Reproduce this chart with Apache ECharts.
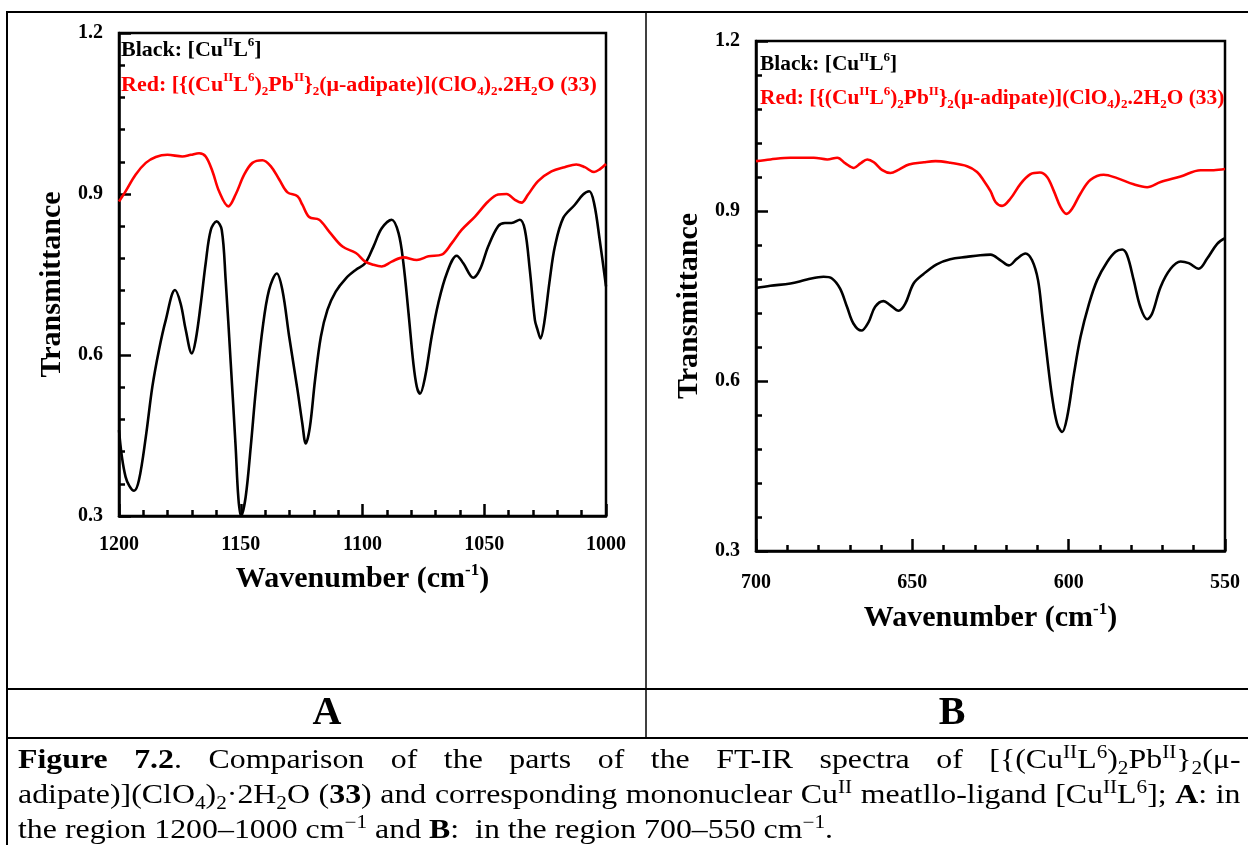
<!DOCTYPE html>
<html>
<head>
<meta charset="utf-8">
<script src="https://cdn.jsdelivr.net/npm/echarts@6/dist/echarts.min.js"></script>
<style>
html, body { margin: 0; padding: 0; background: #fff; }
#wrap { position: relative; width: 1248px; height: 845px; overflow: hidden; }
#chart { position: absolute; left: 0; top: 0; width: 1248px; height: 845px; }
#caption { position: absolute; left: 18px; top: 742px; width: 1036px;
  transform: scaleX(1.18); transform-origin: 0 0;
  font-family: "Liberation Serif", "Times New Roman", serif; font-size: 27px; line-height: 35px; color: #000; }
#caption .row { height: 35px; white-space: nowrap; }
#caption .just { display: inline-block; white-space: nowrap; }
#caption sup, #caption sub { font-size: 18px; line-height: 0; }
</style>
</head>
<body>
<div id="wrap">
  <div id="chart"></div>
  <div id="caption">
    <div class="row"><span class="just"><b>Figure 7.2</b>. Comparison of the parts of the FT-IR spectra of [{(Cu<sup>II</sup>L<sup>6</sup>)<sub>2</sub>Pb<sup>II</sup>}<sub>2</sub>(μ-</span></div>
    <div class="row"><span class="just">adipate)](ClO<sub>4</sub>)<sub>2</sub>·2H<sub>2</sub>O (<b>33</b>) and corresponding mononuclear Cu<sup>II</sup> meatllo-ligand [Cu<sup>II</sup>L<sup>6</sup>]; <b>A</b>: in</span></div>
    <div class="row"><span>the region 1200–1000 cm<sup>−1</sup> and <b>B</b>:&nbsp; in the region 700–550 cm<sup>−1</sup>.</span></div>
  </div>
</div>
<script>
// panel A: 1200-1000 cm-1
var aBlackWn = [1200, 1197.3, 1193.8, 1191.8, 1189, 1186.3, 1183.6, 1180.8, 1177, 1174.7, 1172.6, 1170.1, 1168.5, 1166.4, 1164.4, 1162.3, 1159.9, 1157.8, 1156.2, 1154.1, 1152.1, 1151, 1149.9, 1148, 1145.9, 1143.8, 1141.1, 1138.4, 1135.2, 1132.9, 1130.1, 1126.7, 1124.7, 1123.3, 1121.6, 1119.5, 1117.1, 1114.4, 1111, 1106.8, 1102.7, 1098.9, 1095.5, 1092.1, 1088, 1085.2, 1083.2, 1081.1, 1079.1, 1077.7, 1076.4, 1074.3, 1071.6, 1068.9, 1065.4, 1061.3, 1058.6, 1054.5, 1051.8, 1048.4, 1044.3, 1041.5, 1038.8, 1035.4, 1033.3, 1031.3, 1029.2, 1028.1, 1026.9, 1025.4, 1023.1, 1021, 1017.6, 1012.8, 1009.4, 1006.9, 1004.9, 1002.6, 1000];
var aBlackT = [0.46, 0.373, 0.347, 0.367, 0.447, 0.541, 0.609, 0.665, 0.721, 0.696, 0.647, 0.603, 0.628, 0.696, 0.771, 0.833, 0.849, 0.833, 0.74, 0.584, 0.429, 0.335, 0.3, 0.335, 0.429, 0.535, 0.647, 0.721, 0.752, 0.721, 0.634, 0.535, 0.472, 0.435, 0.466, 0.553, 0.634, 0.684, 0.718, 0.743, 0.759, 0.771, 0.802, 0.836, 0.852, 0.827, 0.771, 0.678, 0.584, 0.541, 0.528, 0.559, 0.634, 0.696, 0.752, 0.785, 0.771, 0.744, 0.759, 0.802, 0.84, 0.846, 0.846, 0.852, 0.833, 0.759, 0.665, 0.647, 0.631, 0.659, 0.74, 0.802, 0.855, 0.88, 0.899, 0.905, 0.883, 0.815, 0.728];
var aRedWn = [1200, 1197.3, 1193.2, 1189, 1184.9, 1180.1, 1174, 1170.5, 1167.1, 1164.4, 1161.6, 1158.9, 1155.1, 1152.1, 1148.6, 1145.2, 1141.1, 1137.7, 1134.2, 1130.8, 1126.7, 1124.7, 1121.9, 1117.8, 1113.7, 1108.2, 1102.7, 1098.9, 1095.5, 1092.1, 1088, 1083.2, 1077.7, 1072.9, 1067.5, 1063.4, 1059.3, 1053.8, 1048.4, 1044.3, 1040.8, 1037.4, 1034.7, 1032, 1027.9, 1022.4, 1017, 1012.2, 1008.7, 1004.9, 1002.6, 1000];
var aRedT = [0.886, 0.905, 0.936, 0.958, 0.969, 0.973, 0.97, 0.973, 0.976, 0.97, 0.942, 0.905, 0.877, 0.899, 0.936, 0.958, 0.963, 0.952, 0.927, 0.903, 0.896, 0.88, 0.857, 0.852, 0.83, 0.802, 0.79, 0.774, 0.768, 0.765, 0.774, 0.782, 0.777, 0.784, 0.787, 0.808, 0.833, 0.858, 0.886, 0.899, 0.9, 0.889, 0.884, 0.899, 0.924, 0.942, 0.95, 0.955, 0.95, 0.941, 0.946, 0.956];

// panel B: 700-550 cm-1
var bBlackWn = [700, 695.4, 689, 683.7, 678.4, 675.7, 673.1, 670.9, 668.8, 666.3, 664, 661.9, 659.2, 657.1, 654.4, 652.3, 649.6, 646.4, 642.2, 637.9, 632.6, 628.3, 625, 621.8, 619.1, 616.5, 613.8, 611.7, 609.8, 608.5, 606.9, 605.3, 603.7, 602.1, 600.5, 598.3, 596.2, 593.5, 590.9, 587.7, 585, 582.9, 581.3, 579.2, 577.1, 574.9, 573.3, 570.6, 567.4, 564.2, 561.6, 558.4, 555.7, 552.5, 550];
var bBlackT = [0.764, 0.768, 0.772, 0.779, 0.784, 0.781, 0.763, 0.731, 0.701, 0.689, 0.704, 0.731, 0.741, 0.734, 0.724, 0.736, 0.772, 0.789, 0.806, 0.815, 0.819, 0.822, 0.823, 0.813, 0.804, 0.816, 0.825, 0.813, 0.778, 0.719, 0.642, 0.572, 0.525, 0.51, 0.536, 0.613, 0.678, 0.736, 0.778, 0.81, 0.828, 0.832, 0.822, 0.778, 0.731, 0.709, 0.719, 0.766, 0.798, 0.811, 0.808, 0.798, 0.816, 0.842, 0.852];
var bRedWn = [700, 695.4, 689, 681.5, 677.2, 674, 671.4, 668.7, 666.6, 664.4, 662.3, 659.6, 657, 654.3, 651.1, 646.3, 642.6, 637.8, 632.5, 629.3, 627.2, 625, 623.4, 621.3, 618.6, 615.4, 612.2, 609.2, 606.9, 604.8, 602.6, 600.7, 598.9, 596.2, 593, 588.8, 584.5, 579.2, 574.9, 570.6, 564.2, 557.8, 553.6, 550];
var bRedT = [0.988, 0.991, 0.994, 0.994, 0.991, 0.994, 0.984, 0.976, 0.984, 0.991, 0.986, 0.972, 0.967, 0.973, 0.982, 0.986, 0.988, 0.985, 0.979, 0.969, 0.954, 0.935, 0.916, 0.909, 0.922, 0.948, 0.965, 0.968, 0.96, 0.936, 0.907, 0.895, 0.904, 0.931, 0.955, 0.964, 0.958, 0.947, 0.942, 0.951, 0.961, 0.972, 0.972, 0.974];

var serif = '"Liberation Serif", "Times New Roman", serif';

function zip(xs, ys) {
    return xs.map(function (x, i) { return [x, ys[i]]; });
}

function xAxisOf(gi, min, max, labelMargin, nameGap) {
    return {
        gridIndex: gi, type: 'value', min: min, max: max, inverse: true, interval: 50,
        axisLine: { lineStyle: { color: '#000', width: 2.5 } },
        axisTick: { inside: true, length: 12, lineStyle: { color: '#000', width: 2.5 } },
        minorTick: { show: true, splitNumber: 5, length: 6, lineStyle: { color: '#000', width: 2.5 } },
        splitLine: { show: false },
        axisLabel: { margin: labelMargin, color: '#000', fontFamily: serif, fontWeight: 'bold', fontSize: 20,
            showMinLabel: true, showMaxLabel: true,
            formatter: function (v) { return String(v); } },
        name: '{b|Wavenumber (cm}{s|-1}{b|)}',
        nameLocation: 'middle', nameGap: nameGap,
        nameTextStyle: {
            rich: {
                b: { color: '#000', fontFamily: serif, fontWeight: 'bold', fontSize: 30, lineHeight: 34 },
                s: { color: '#000', fontFamily: serif, fontWeight: 'bold', fontSize: 17, lineHeight: 18, verticalAlign: 'top' }
            }
        }
    };
}

function yAxisOf(gi) {
    return {
        gridIndex: gi, type: 'value', min: 0.3, max: 1.2, interval: 0.3,
        axisLine: { lineStyle: { color: '#000', width: 2.5 } },
        axisTick: { inside: true, length: 12, lineStyle: { color: '#000', width: 2.5 } },
        minorTick: { show: true, splitNumber: 5, length: 6, lineStyle: { color: '#000', width: 2.5 } },
        splitLine: { show: false },
        axisLabel: { margin: 16, color: '#000', fontFamily: serif, fontWeight: 'bold', fontSize: 20,
            formatter: function (v) { return v.toFixed(1); } },
        name: 'Transmittance', nameLocation: 'middle', nameGap: 52,
        nameTextStyle: { color: '#000', fontFamily: serif, fontWeight: 'bold', fontSize: 30, padding: [0, 20, 0, 0] }
    };
}

function lineOf(gi, data, color) {
    return {
        type: 'line', xAxisIndex: gi, yAxisIndex: gi, data: data,
        showSymbol: false, smooth: 0.35,
        lineStyle: { color: color, width: 2.6 }
    };
}

// rich styles for the in-plot labels, at a given base size
function legendRich(fs) {
    var small = Math.round(fs * 0.6);
    function st(color, extra) {
        var s = { fill: color, fontFamily: serif, fontWeight: 'bold', fontSize: fs, lineHeight: fs + 5 };
        if (extra) { s.fontSize = small; s.lineHeight = small + 1; s.verticalAlign = extra; }
        return s;
    }
    return {
        k: st('#000'), ks: st('#000', 'top'),
        r: st('#ff0000'), rs: st('#ff0000', 'top'), rb: st('#ff0000', 'bottom')
    };
}
var blackLabel = '{k|Black: [Cu}{ks|II}{k|L}{ks|6}{k|]}';
var redLabel = '{r|Red: [{(Cu}{rs|II}{r|L}{rs|6}{r|)}{rb|2}{r|Pb}{rs|II}}{rb|2}{r|(μ-adipate)](ClO}{rb|4}{r|)}{rb|2}{r|.2H}{rb|2}{r|O (33)}';

function label(x, y, text, color, fs) {
    return {
        type: 'text', x: x, y: y, silent: true,
        style: { text: text, fill: color, fontFamily: serif, fontWeight: 'bold', fontSize: fs,
            align: 'left', verticalAlign: 'middle', textAlign: 'left', textVerticalAlign: 'middle', rich: legendRich(fs) }
    };
}

function rule(x1, y1, x2, y2, w) {
    return { type: 'line', silent: true, shape: { x1: x1, y1: y1, x2: x2, y2: y2 },
        style: { stroke: '#000', lineWidth: w } };
}

function panelTag(x, text) {
    return { type: 'text', x: x, y: 714, silent: true,
        style: { text: text, fill: '#000', fontFamily: serif, fontWeight: 'bold', fontSize: 40,
            align: 'center', verticalAlign: 'middle', textAlign: 'center', textVerticalAlign: 'middle' } };
}

var chart = echarts.init(document.getElementById('chart'));
var option = {
    animation: false,
    backgroundColor: '#fff',
    grid: [
        { left: 119, top: 33, width: 487, height: 483, show: true, borderColor: '#000', borderWidth: 2.5 },
        { left: 756, top: 41, width: 469, height: 510, show: true, borderColor: '#000', borderWidth: 2.5 }
    ],
    xAxis: [xAxisOf(0, 1000, 1200, 19, 46), xAxisOf(1, 550, 700, 22, 50)],
    yAxis: [yAxisOf(0), yAxisOf(1)],
    series: [
        lineOf(0, zip(aBlackWn, aBlackT), '#000'),
        lineOf(0, zip(aRedWn, aRedT), '#ff0000'),
        lineOf(1, zip(bBlackWn, bBlackT), '#000'),
        lineOf(1, zip(bRedWn, bRedT), '#ff0000')
    ],
    graphic: {
        elements: [
            rule(7, 12, 1248, 12, 2),
            rule(7, 11, 7, 845, 2),
            rule(646, 12, 646, 738, 1.5),
            rule(7, 689, 1248, 689, 2),
            rule(7, 738, 1248, 738, 2),
            panelTag(327, 'A'),
            panelTag(952, 'B'),
            label(121, 50, blackLabel, '#000', 22),
            label(121, 85, redLabel, '#ff0000', 22),
            label(760, 64, blackLabel, '#000', 21.4),
            label(760, 98, redLabel, '#ff0000', 21.4)
        ]
    }
};
chart.setOption(option);

// stretch the first two caption lines to the full (unscaled) width
document.querySelectorAll('#caption .just').forEach(function (el) {
    var w = el.offsetWidth;
    var spaces = (el.textContent.match(/ /g) || []).length;
    el.style.wordSpacing = ((1036 - w) / spaces) + 'px';
});
</script>
</body>
</html>
